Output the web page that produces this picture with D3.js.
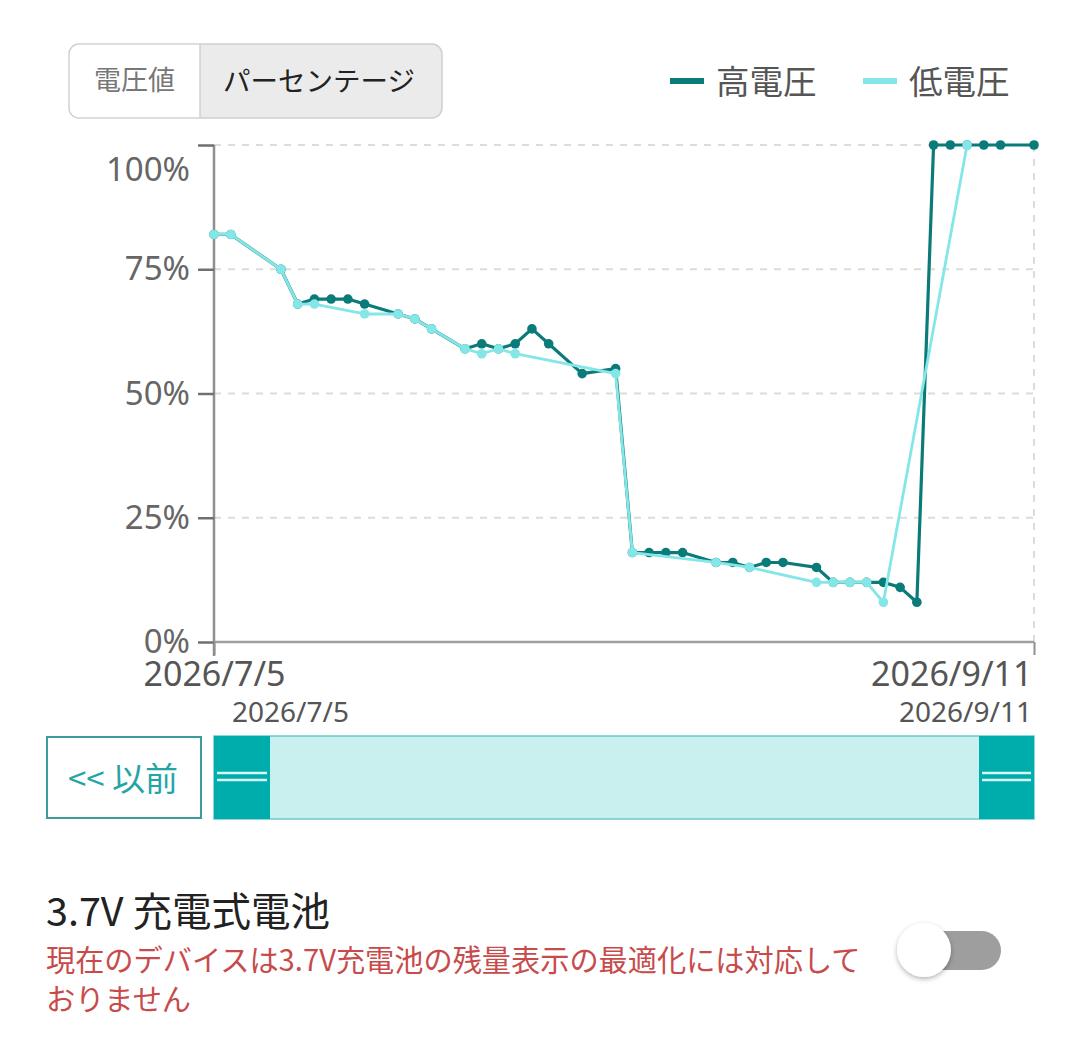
<!DOCTYPE html>
<html><head><meta charset="utf-8">
<script src="https://cdn.jsdelivr.net/npm/d3@7"></script>
<style>
html,body{margin:0;padding:0;background:#fff;}
svg{display:block;}
</style></head>
<body>
<svg id="c" width="1080" height="1040"></svg>
<script>
// ---- data ----
const seriesNames = ["高電圧", "低電圧"];
const highSlots = [0,1,4,5,6,7,8,9,11,12,13,15,16,17,18,19,20,22,24,25,26,27,28,30,31,32,33,34,36,37,38,39,40,41,42,43,44,45,46,47,49];
const highValues = [82,82,75,68,69,69,69,68,66,65,63,59,60,59,60,63,60,54,55,18,18,18,18,16,16,15,16,16,15,12,12,12,12,11,8,100,100,100,100,100,100];
const lowSlots = [0,1,4,5,6,9,11,12,13,15,16,17,18,24,25,30,32,36,37,38,39,40,45];
const lowValues = [82,82,75,68,68,66,66,65,63,59,58,59,58,54,18,16,15,12,12,12,12,8,100];
const slotDomain = [0, 49];
const xTickLabels = ["2026/7/5", "2026/9/11"];
const rangeLabels = ["2026/7/5", "2026/9/11"];
const yTicks = [0, 25, 50, 75, 100];

const highColor = "#0b7b79", lowColor = "#84e6e6";
const latin = "'Noto Sans', 'Noto Sans CJK JP', sans-serif";
const cjk = "'Noto Sans CJK JP', 'Noto Sans', sans-serif";

const svg = d3.select("#c");
const L = 214, R = 1034, T = 145, B = 642;
const x = d3.scaleLinear().domain(slotDomain).range([L, R]);
const y = d3.scaleLinear().domain([0, 100]).range([B, T]);

// ---- segmented buttons ----
const bg = svg.append("g");
bg.append("rect").attr("x", 69).attr("y", 44).attr("width", 373).attr("height", 74).attr("rx", 10)
  .attr("fill", "#ebebeb").attr("stroke", "#cfcfcf").attr("stroke-width", 1.5);
bg.append("path").attr("d", "M200,44.75 L79,44.75 A9.25,9.25 0 0 0 69.75,54 L69.75,108 A9.25,9.25 0 0 0 79,117.25 L200,117.25 Z")
  .attr("fill", "#fff");
bg.append("line").attr("x1", 200).attr("x2", 200).attr("y1", 44).attr("y2", 118).attr("stroke", "#d0d0d0").attr("stroke-width", 1.5);
bg.append("text").attr("x", 134.5).attr("y", 81).attr("dy", "0.35em").attr("text-anchor", "middle")
  .style("font-family", cjk).style("font-size", "27px").attr("fill", "#777").text("電圧値");
bg.append("text").attr("x", 319).attr("y", 81).attr("dy", "0.35em").attr("text-anchor", "middle")
  .style("font-family", cjk).style("font-size", "27.5px").attr("fill", "#222").text("パーセンテージ");

// ---- legend ----
const lg = svg.append("g");
[[670, 716, highColor, seriesNames[0]], [863, 909, lowColor, seriesNames[1]]].forEach(([lx, tx, col, name]) => {
  lg.append("line").attr("x1", lx).attr("x2", lx + 34).attr("y1", 81).attr("y2", 81)
    .attr("stroke", col).attr("stroke-width", 6);
  lg.append("text").attr("x", tx).attr("y", 82).attr("dy", "0.35em")
    .style("font-family", cjk).style("font-size", "33.5px").attr("fill", "#555").text(name);
});

// ---- grid ----
const grid = svg.append("g");
grid.selectAll("line.h").data(yTicks.filter(d => d > 0)).join("line")
  .attr("x1", L).attr("x2", R).attr("y1", d => y(d)).attr("y2", d => y(d))
  .attr("stroke", "#dcdcdc").attr("stroke-width", 2).attr("stroke-dasharray", "7,7");
grid.append("line").attr("x1", R).attr("x2", R).attr("y1", T).attr("y2", B)
  .attr("stroke", "#dcdcdc").attr("stroke-width", 2).attr("stroke-dasharray", "7,7");

// ---- y axis ----
const yAxis = svg.append("g").attr("transform", `translate(${L},0)`)
  .call(d3.axisLeft(y).tickValues(yTicks).tickFormat(d => d + "%").tickSize(16).tickPadding(8));
yAxis.select(".domain").attr("stroke", "#8f8f8f").attr("stroke-width", 2.5)
  .attr("d", `M0,${T}V${B + 14}`);
yAxis.selectAll(".tick line").attr("stroke", "#707070").attr("stroke-width", 2.5);
yAxis.selectAll(".tick text").style("font-family", latin).style("font-size", "33px").attr("fill", "#666");
yAxis.selectAll(".tick").filter(d => d === 100).select("text").attr("dy", "1.08em");

// ---- x axis ----
const xAxis = svg.append("g").attr("transform", `translate(0,${B})`)
  .call(d3.axisBottom(x).tickValues(slotDomain).tickFormat((d, i) => xTickLabels[i]).tickSize(13).tickPadding(7));
xAxis.select(".domain").attr("stroke", "#a0a0a0").attr("stroke-width", 2.5).attr("d", `M${L},0H${R}`);
xAxis.selectAll(".tick line").attr("stroke", "#8f8f8f").attr("stroke-width", 2);
xAxis.selectAll(".tick text").style("font-family", latin).style("font-size", "34px").attr("fill", "#555")
  .attr("text-anchor", (d, i) => i === 0 ? "middle" : "end")
  .attr("x", (d, i) => i === 0 ? 0 : -2);
// range labels
svg.append("text").attr("x", 232).attr("y", 722).style("font-family", latin).style("font-size", "28px")
  .attr("fill", "#555").text(rangeLabels[0]);
svg.append("text").attr("x", 1032).attr("y", 722).attr("text-anchor", "end").style("font-family", latin)
  .style("font-size", "28px").attr("fill", "#555").text(rangeLabels[1]);

// ---- series ----
function drawSeries(slots, vals, color, width) {
  const pts = slots.map((s, i) => [s, vals[i]]);
  const g = svg.append("g");
  g.append("path").datum(pts).attr("fill", "none").attr("stroke", color).attr("stroke-width", width)
    .attr("stroke-linejoin", "round")
    .attr("d", d3.line().x(d => x(d[0])).y(d => y(d[1])));
  g.selectAll("circle").data(pts).join("circle")
    .attr("cx", d => x(d[0])).attr("cy", d => y(d[1])).attr("r", 4.8).attr("fill", color);
}
drawSeries(highSlots, highValues, highColor, 3.2);
drawSeries(lowSlots, lowValues, lowColor, 2.8);

// ---- data zoom slider ----
const sl = svg.append("g");
sl.append("rect").attr("x", 47).attr("y", 737).attr("width", 154).attr("height", 81)
  .attr("fill", "#fff").attr("stroke", "#3a9c9c").attr("stroke-width", 2);
sl.append("text").attr("x", 123).attr("y", 779).attr("dy", "0.35em").attr("text-anchor", "middle")
  .style("font-family", cjk).style("font-size", "33px").attr("fill", "#24a5a5").text("<< 以前");
sl.append("rect").attr("x", L).attr("y", 736).attr("width", R - L).attr("height", 83)
  .attr("fill", "#c9efef").attr("stroke", "#6cc9c9").attr("stroke-width", 1.5);
[[L, 56], [979, 55]].forEach(([hx, hw]) => {
  sl.append("rect").attr("x", hx).attr("y", 736).attr("width", hw).attr("height", 83).attr("fill", "#00adad");
  [773, 780].forEach(ly => sl.append("line").attr("x1", hx + 3).attr("x2", hx + hw - 3)
    .attr("y1", ly).attr("y2", ly).attr("stroke", "#d8f6f6").attr("stroke-width", 2.5));
});

// ---- battery option ----
svg.append("text").attr("x", 46).attr("y", 912).attr("dy", "0.35em")
  .style("font-family", cjk).style("font-size", "39.5px").attr("fill", "#222").text("3.7V 充電式電池");
svg.append("text").attr("x", 46).attr("y", 961).attr("dy", "0.35em")
  .style("font-family", cjk).style("font-size", "29.2px").attr("fill", "#c84b4b")
  .text("現在のデバイスは3.7V充電池の残量表示の最適化には対応して");
svg.append("text").attr("x", 46).attr("y", 1000).attr("dy", "0.35em")
  .style("font-family", cjk).style("font-size", "29.2px").attr("fill", "#c84b4b").text("おりません");

// toggle
const defs = svg.append("defs");
const f = defs.append("filter").attr("id", "sh").attr("x", "-50%").attr("y", "-50%").attr("width", "200%").attr("height", "200%");
f.append("feDropShadow").attr("dx", 0).attr("dy", 2).attr("stdDeviation", 2.5).attr("flood-color", "#000").attr("flood-opacity", 0.3);
svg.append("rect").attr("x", 905).attr("y", 931).attr("width", 96).attr("height", 39).attr("rx", 19.5)
  .attr("fill", "#9e9e9e");
svg.append("circle").attr("cx", 924).attr("cy", 950).attr("r", 27).attr("fill", "#fff").attr("filter", "url(#sh)");
</script>
</body></html>
